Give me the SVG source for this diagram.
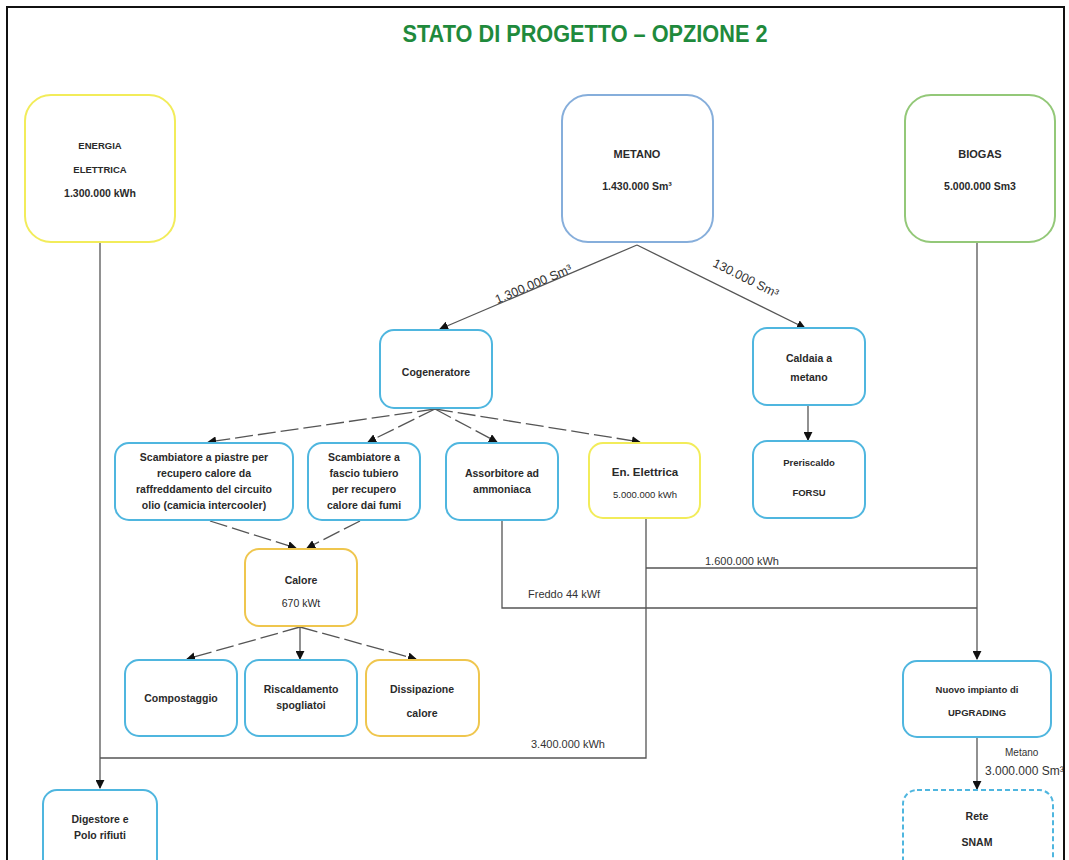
<svg xmlns="http://www.w3.org/2000/svg" width="1069" height="860" viewBox="0 0 1069 860">
<style>
.box{fill:#fff;stroke-width:2}
.blue{stroke:#4fb6df}
.yel{stroke:#f2ec5a}
.gold{stroke:#efc64e}
.mblue{stroke:#86aedb}
.green{stroke:#93c878}
.t{font-family:"Liberation Sans",Arial,sans-serif;font-size:10.5px;font-weight:bold;fill:#2a2a2a;text-anchor:middle}
.r{font-weight:normal}
.lbl{font-family:"Liberation Sans",Arial,sans-serif;font-size:11px;fill:#333}
.ln{fill:none;stroke:#555;stroke-width:1.3}
.dash{stroke-dasharray:18 5}
</style>
<defs>
<marker id="ah" viewBox="0 0 10 10" refX="9" refY="5" markerWidth="9" markerHeight="9" markerUnits="userSpaceOnUse" orient="auto">
<path d="M0,0 L10,5 L0,10 z" fill="#111"/>
</marker>
</defs>
<rect width="1069" height="860" fill="#fff"/>
<rect x="7" y="7" width="1057" height="880" fill="none" stroke="#111" stroke-width="2"/>
<text x="585" y="42" text-anchor="middle" font-family="'Liberation Sans Narrow','Liberation Sans',Arial,sans-serif" font-weight="bold" font-size="24" fill="#1f8a3c" textLength="365" lengthAdjust="spacingAndGlyphs">STATO DI PROGETTO – OPZIONE 2</text>

<g id="connectors">
<path class="ln" d="M100,242 V788" marker-end="url(#ah)"/>
<path class="ln" d="M646,518 V758 H100"/>
<path class="ln" d="M637,245 L440,329" marker-end="url(#ah)"/>
<path class="ln" d="M637,245 L805,328" marker-end="url(#ah)"/>
<path class="ln" d="M808,405 V440" marker-end="url(#ah)"/>
<path class="ln dash" d="M435,409 L208,442" marker-end="url(#ah)"/>
<path class="ln dash" d="M435,409 L368,442" marker-end="url(#ah)"/>
<path class="ln dash" d="M435,409 L497,442" marker-end="url(#ah)"/>
<path class="ln dash" d="M435,409 L640,442" marker-end="url(#ah)"/>
<path class="ln dash" d="M210,521 L296,548" marker-end="url(#ah)"/>
<path class="ln dash" d="M360,521 L307,548" marker-end="url(#ah)"/>
<path class="ln dash" d="M300,627 L187,659" marker-end="url(#ah)"/>
<path class="ln" d="M300,627 V659" marker-end="url(#ah)"/>
<path class="ln dash" d="M300,627 L416,659" marker-end="url(#ah)"/>
<path class="ln" d="M502,520 V608 H977"/>
<path class="ln" d="M646,568 H977"/>
<path class="ln" d="M977,242 V659" marker-end="url(#ah)"/>
<path class="ln" d="M977,737 V789" marker-end="url(#ah)"/>
<text class="lbl" transform="translate(535,288) rotate(-23)" text-anchor="middle" style="font-size:12.5px">1.300.000 Sm³</text>
<text class="lbl" transform="translate(744,282) rotate(26.6)" text-anchor="middle" style="font-size:12.5px">130.000 Sm³</text>
<text class="lbl" x="705" y="565">1.600.000 kWh</text>
<text class="lbl" x="528" y="598">Freddo 44 kWf</text>
<text class="lbl" x="531" y="748">3.400.000 kWh</text>
<text class="lbl" x="1005" y="756" style="font-size:10px">Metano</text>
<text class="lbl" x="985" y="775" style="font-size:12px">3.000.000 Sm³</text>
</g>

<g id="energia">
<rect class="box yel" x="25" y="95" width="150" height="147" rx="26"/>
<text class="t" x="100" y="149" style="font-size:9.5px">ENERGIA</text>
<text class="t" x="100" y="173" style="font-size:9.5px">ELETTRICA</text>
<text class="t" x="100" y="197">1.300.000 kWh</text>
</g>
<g id="metano">
<rect class="box mblue" x="562" y="95" width="151" height="147" rx="26"/>
<text class="t" x="637" y="158" style="font-size:11px">METANO</text>
<text class="t" x="637" y="190">1.430.000 Sm³</text>
</g>
<g id="biogas">
<rect class="box green" x="905" y="95" width="150" height="147" rx="26"/>
<text class="t" x="980" y="158" style="font-size:11px">BIOGAS</text>
<text class="t" x="980" y="190">5.000.000 Sm3</text>
</g>
<g id="cogeneratore">
<rect class="box blue" x="380" y="330" width="112" height="78" rx="14"/>
<text class="t" x="436" y="376">Cogeneratore</text>
</g>
<g id="caldaia">
<rect class="box blue" x="753" y="328" width="112" height="77" rx="14"/>
<text class="t" x="809" y="362">Caldaia a</text>
<text class="t" x="809" y="381">metano</text>
</g>
<g id="preriscaldo">
<rect class="box blue" x="753" y="441" width="112" height="77" rx="14"/>
<text class="t" x="809" y="466" style="font-size:9.5px">Preriscaldo</text>
<text class="t" x="809" y="496" style="font-size:9.5px">FORSU</text>
</g>
<g id="scambiatore-piastre">
<rect class="box blue" x="115" y="443" width="178" height="77" rx="14"/>
<text class="t" x="204" y="461">Scambiatore a piastre per</text>
<text class="t" x="204" y="477">recupero calore da</text>
<text class="t" x="204" y="493">raffreddamento del circuito</text>
<text class="t" x="204" y="509">olio (camicia intercooler)</text>
</g>
<g id="scambiatore-fascio">
<rect class="box blue" x="308" y="443" width="112" height="77" rx="14"/>
<text class="t" x="364" y="461">Scambiatore a</text>
<text class="t" x="364" y="477">fascio tubiero</text>
<text class="t" x="364" y="493">per recupero</text>
<text class="t" x="364" y="509">calore dai fumi</text>
</g>
<g id="assorbitore">
<rect class="box blue" x="446" y="443" width="112" height="77" rx="14"/>
<text class="t" x="502" y="477">Assorbitore ad</text>
<text class="t" x="502" y="493">ammoniaca</text>
</g>
<g id="en-elettrica">
<rect class="box yel" x="589" y="443" width="111" height="75" rx="14"/>
<text class="t" x="645" y="476" style="font-size:11.5px">En. Elettrica</text>
<text class="t r" x="645" y="498" style="font-size:9.5px">5.000.000 kWh</text>
</g>
<g id="calore">
<rect class="box gold" x="245" y="549" width="112" height="77" rx="14"/>
<text class="t" x="301" y="584">Calore</text>
<text class="t r" x="301" y="607">670 kWt</text>
</g>
<g id="compostaggio">
<rect class="box blue" x="125" y="660" width="112" height="76" rx="14"/>
<text class="t" x="181" y="702">Compostaggio</text>
</g>
<g id="riscaldamento">
<rect class="box blue" x="245" y="660" width="112" height="76" rx="14"/>
<text class="t" x="301" y="693">Riscaldamento</text>
<text class="t" x="301" y="709">spogliatoi</text>
</g>
<g id="dissipazione">
<rect class="box gold" x="366" y="660" width="113" height="76" rx="14"/>
<text class="t" x="422" y="693">Dissipazione</text>
<text class="t" x="422" y="717">calore</text>
</g>
<g id="upgrading">
<rect class="box blue" x="903" y="661" width="148" height="76" rx="14"/>
<text class="t" x="977" y="693" style="font-size:9.5px">Nuovo impianto di</text>
<text class="t" x="977" y="716" style="font-size:9.5px">UPGRADING</text>
</g>
<g id="snam">
<rect class="box blue" x="903" y="790" width="150" height="90" rx="14" stroke-dasharray="5 3"/>
<text class="t" x="977" y="820">Rete</text>
<text class="t" x="977" y="846">SNAM</text>
</g>
<g id="digestore">
<rect class="box blue" x="43" y="790" width="114" height="90" rx="14"/>
<text class="t" x="100" y="823">Digestore e</text>
<text class="t" x="100" y="839">Polo rifiuti</text>
</g>
<rect x="1065" y="0" width="4" height="860" fill="#fff"/>
<rect x="1063" y="7" width="2" height="853" fill="#111"/>
</svg>
